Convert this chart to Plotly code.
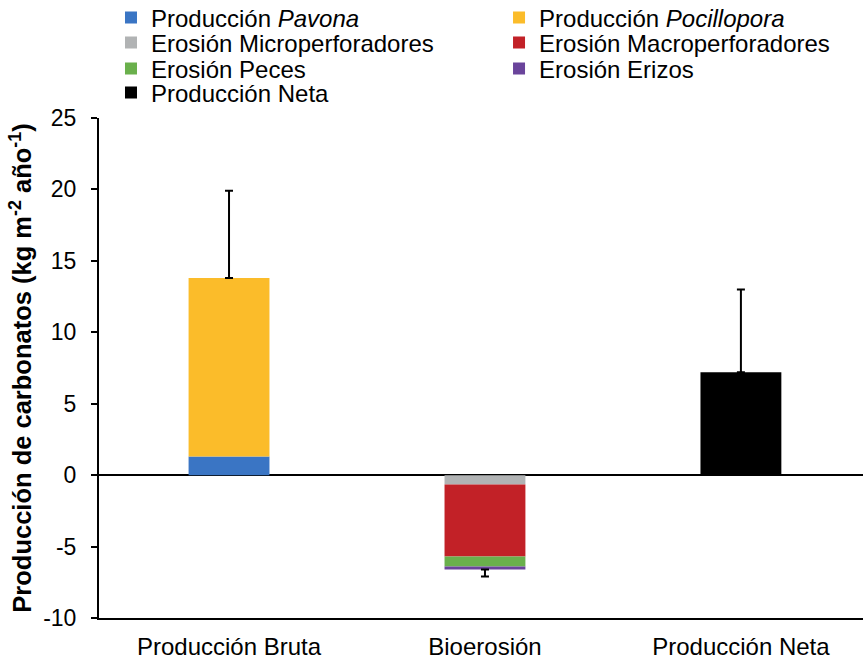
import plotly.graph_objects as go

# Categories on the x axis
categories = ["Producción Bruta", "Bioerosión", "Producción Neta"]

# Carbonate budget components (kg m-2 año-1)
pavona = 1.3
pocillopora = 12.5
micro = -0.65
macro = -5.05
peces = -0.7
erizos = -0.2
neta = 7.2

# Error bar sizes (one-sided, outward from each stacked total)
err_bruta = 6.1
err_bioerosion = 0.5
err_neta = 5.8

# Y axis ticks (plain hyphen for negatives)
y_tickvals = [-10, -5, 0, 5, 10, 15, 20, 25]
y_ticktext = ["-10", "-5", "0", "5", "10", "15", "20", "25"]

series = [
    ("Producción <i>Pavona</i>", categories[0], pavona, "#3a75c4"),
    ("Producción <i>Pocillopora</i>", categories[0], pocillopora, "#fbbc2a"),
    ("Erosión Microperforadores", categories[1], micro, "#b1b3b4"),
    ("Erosión Macroperforadores", categories[1], macro, "#c22127"),
    ("Erosión Peces", categories[1], peces, "#6ab04c"),
    ("Erosión Erizos", categories[1], erizos, "#6a449b"),
    ("Producción Neta", categories[2], neta, "#000000"),
]

FONT = "Arial, Liberation Sans, sans-serif"

# Two-column legend grid: one small legend per entry
legend_cols = [0.0157, 0.5236]
legend_rows = [1.200, 1.150, 1.098, 1.050]

fig = go.Figure()
legend_layout = {}
for i, (name, cat, val, color) in enumerate(series):
    key = "legend" if i == 0 else f"legend{i + 1}"
    fig.add_trace(go.Bar(
        x=[cat], y=[val], name=name,
        marker=dict(color=color, line=dict(width=0)),
        width=0.316,
        legend=key,
    ))
    legend_layout[key] = dict(
        x=legend_cols[i % 2], y=legend_rows[i // 2],
        xanchor="left", yanchor="middle",
        font=dict(family=FONT, size=24, color="black"),
        bgcolor="rgba(0,0,0,0)", borderwidth=0,
        itemclick=False, itemdoubleclick=False,
    )

# Error bars drawn at the stacked totals of each column
tot_bruta = pavona + pocillopora
tot_bio = micro + macro + peces + erizos
fig.add_trace(go.Scatter(
    x=categories, y=[tot_bruta, tot_bio, neta],
    mode="markers", marker=dict(size=0.1, color="rgba(0,0,0,0)"),
    showlegend=False, hoverinfo="skip",
    error_y=dict(
        type="data", symmetric=False,
        array=[err_bruta, 0, err_neta],
        arrayminus=[0, err_bioerosion, 0],
        color="black", thickness=2, width=4,
    ),
))

fig.update_layout(
    width=863, height=660,
    barmode="relative",
    plot_bgcolor="white", paper_bgcolor="white",
    margin=dict(l=99, r=0, t=118, b=42, autoexpand=False),
    font=dict(family=FONT, size=20, color="black"),
    xaxis=dict(
        range=[-0.508, 2.477],
        showline=True, linecolor="black", linewidth=2,
        ticks="", showgrid=False, zeroline=False,
        ticklabelstandoff=6,
        tickfont=dict(family=FONT, size=24, color="black"),
    ),
    yaxis=dict(
        range=[-10, 25],
        tickvals=y_tickvals, ticktext=y_ticktext,
        showline=True, linecolor="black", linewidth=2,
        ticks="outside", ticklen=6, tickwidth=2, tickcolor="black",
        ticklabelstandoff=10,
        showgrid=False,
        zeroline=True, zerolinecolor="black", zerolinewidth=2,
        tickfont=dict(family=FONT, size=23, color="black"),
        title=dict(
            text="<b>Producción de carbonatos (kg m<sup>-2</sup> año<sup>-1</sup>)</b>",
            font=dict(family=FONT, size=25.5, color="black"),
            standoff=4,
        ),
    ),
    **legend_layout,
)

fig.write_html("out.html")
